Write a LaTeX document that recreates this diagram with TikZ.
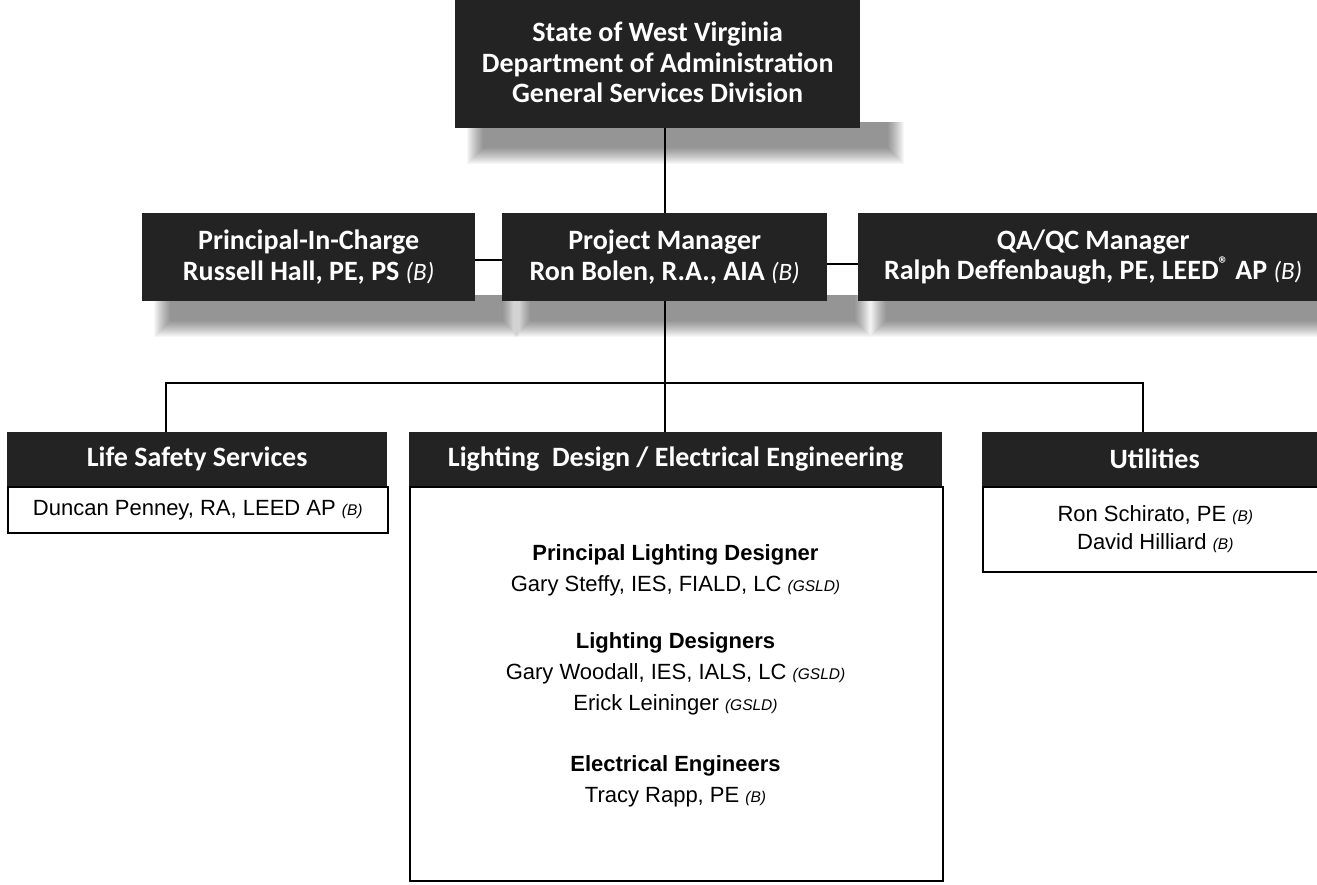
\documentclass[tikz,border=0pt]{standalone}
\usepackage{fontspec}
\setmainfont{Liberation Sans}
\newfontfamily\hdr{Carlito}
\usetikzlibrary{backgrounds}
\definecolor{boxdark}{HTML}{232323}
\newcommand\hB{{\fontsize{25}{28}\selectfont\mdseries\itshape (B)}}
\newcommand\sm[1]{{\fontsize{15.5}{18}\selectfont\itshape (#1)}}
\newcommand\shadowof[1]{\foreach \r in {0,1,...,16}{\fill[black,opacity=0.032] ([shift={(28-\r,-6)}]#1.south west) rectangle ([shift={(28+\r,20+\r)}]#1.south east);}}
\begin{document}
\begin{tikzpicture}[x=1pt,y=-1pt,
  dark/.style={fill=boxdark,text=white,inner sep=0pt,align=center,anchor=north west,font=\hdr\bfseries\fontsize{28}{30.5}\selectfont},
  bodyb/.style={draw=black,line width=1.6pt,fill=white,inner sep=0pt,align=center,anchor=north west,font=\fontsize{22}{28}\selectfont},
  plain/.style={inner sep=0pt,align=center,font=\fontsize{22}{31}\selectfont},
  conn/.style={draw=black,line width=1.6pt}]
\useasboundingbox (0,0) rectangle (1317,885);
\clip (0,0) rectangle (1317,885);
% top
\node[dark,minimum width=405pt,minimum height=131pt] (top) at (455,-3) {State of West Virginia\\Department of Administration\\General Services Division};
% row 2
\node[dark,minimum width=333pt,minimum height=88pt] (pic) at (142,213) {Principal-In-Charge\\Russell Hall, PE, PS \hB};
\node[dark,minimum width=325pt,minimum height=88pt] (pm) at (502,213) {Project Manager\\Ron Bolen, R.A., AIA \hB};
\node[dark,minimum width=470pt,minimum height=88pt] (qa) at (858,213) {QA/QC Manager\\Ralph Deffenbaugh, PE, LEED\textsuperscript{\textregistered} AP \hB};
% row 3
\node[dark,minimum width=380pt,minimum height=54pt] (lsh) at (7,432) {Life Safety Services};
\node[bodyb,minimum width=380pt,minimum height=46pt] (lsb) at (7,486) {Duncan Penney, RA, LEED AP \sm{B}};
\node[dark,minimum width=533pt,minimum height=54pt] (ldh) at (409,432) {Lighting\ \ Design / Electrical Engineering};
\node[bodyb,minimum width=533pt,minimum height=394pt] (ldb) at (409,486) {};
\node[plain] (ldt) at (675.5,676) {\textbf{Principal Lighting Designer}\\Gary Steffy, IES, FIALD, LC \sm{GSLD}\\[26pt]\textbf{Lighting Designers}\\Gary Woodall, IES, IALS, LC \sm{GSLD}\\Erick Leininger \sm{GSLD}\\[30pt]\textbf{Electrical Engineers}\\Tracy Rapp, PE \sm{B}};
\node[dark,minimum width=345pt,minimum height=54pt] (uth) at (982,432) {Utilities};
\node[bodyb,minimum width=345pt,minimum height=85pt] (utb) at (982,486) {Ron Schirato, PE \sm{B}\\David Hilliard \sm{B}};
% shadows
\begin{scope}[on background layer]
\shadowof{top}
\shadowof{pic}
\shadowof{pm}
\shadowof{qa}
\end{scope}
% connectors
\draw[conn] (top.south -| pm.north) -- (pm.north);
\draw[conn] ([yshift=-3pt]pic.east) -- ([yshift=-3pt]pm.west);
\draw[conn] ([yshift=-7pt]pm.east) -- ([yshift=-7pt]qa.west);
\coordinate (busy) at (0,383);
\coordinate (bus) at (pm.south |- busy);
\coordinate (lsT) at ([xshift=-31pt]lsh.north);
\coordinate (utT) at ([xshift=-12pt]uth.north);
\draw[conn] (pm.south) -- (bus);
\draw[conn] (lsT) |- (bus) -| (utT);
\draw[conn] (bus) -- (bus |- ldh.north);
\end{tikzpicture}
\end{document}
